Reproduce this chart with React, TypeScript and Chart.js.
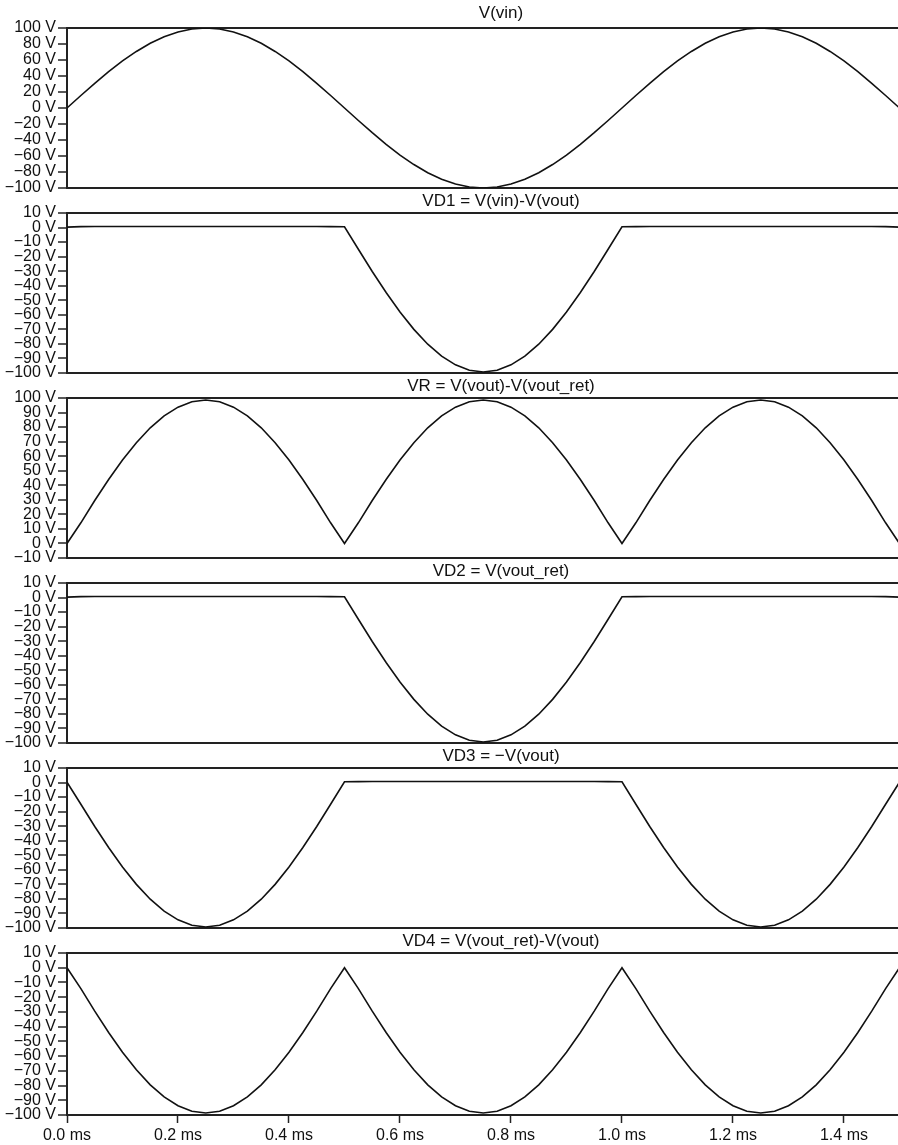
import React, { useEffect, useRef } from 'react';
import { Chart, registerables } from 'chart.js';

Chart.register(...registerables);

const FONT = '"Liberation Sans", Arial, Helvetica, sans-serif';

// time axis (ms)
const TIME_MS = [
  0, 0.025, 0.05, 0.075, 0.1, 0.125, 0.15, 0.175, 0.2, 0.225,
  0.25, 0.275, 0.3, 0.325, 0.35, 0.375, 0.4, 0.425, 0.45, 0.475,
  0.5, 0.525, 0.55, 0.575, 0.6, 0.625, 0.65, 0.675, 0.7, 0.725,
  0.75, 0.775, 0.8, 0.825, 0.85, 0.875, 0.9, 0.925, 0.95, 0.975,
  1.0, 1.025, 1.05, 1.075, 1.1, 1.125, 1.15, 1.175, 1.2, 1.225,
  1.25, 1.275, 1.3, 1.325, 1.35, 1.375, 1.4, 1.425, 1.45, 1.475,
  1.5,
];

const X_MAX = 1.564;
const X_TICKS = [0, 0.2, 0.4, 0.6, 0.8, 1.0, 1.2, 1.4];
const X_TICK_LABELS = ['0.0 ms', '0.2 ms', '0.4 ms', '0.6 ms', '0.8 ms', '1.0 ms', '1.2 ms', '1.4 ms'];

const Y_TICKS_VIN = [-100, -80, -60, -40, -20, 0, 20, 40, 60, 80, 100];
const Y_TICKS_NEG = [-100, -90, -80, -70, -60, -50, -40, -30, -20, -10, 0, 10];
const Y_TICKS_POS = [-10, 0, 10, 20, 30, 40, 50, 60, 70, 80, 90, 100];

const V_VIN = [
  0, 15.6, 30.9, 45.4, 58.8, 70.7, 80.9, 89.1, 95.1, 98.8,
  100, 98.8, 95.1, 89.1, 80.9, 70.7, 58.8, 45.4, 30.9, 15.6,
  0, -15.6, -30.9, -45.4, -58.8, -70.7, -80.9, -89.1, -95.1, -98.8,
  -100, -98.8, -95.1, -89.1, -80.9, -70.7, -58.8, -45.4, -30.9, -15.6,
  0, 15.6, 30.9, 45.4, 58.8, 70.7, 80.9, 89.1, 95.1, 98.8,
  100, 98.8, 95.1, 89.1, 80.9, 70.7, 58.8, 45.4, 30.9, 15.6,
  0,
];

const VD1 = [
  0.3, 0.6, 0.7, 0.7, 0.7, 0.7, 0.7, 0.7, 0.7, 0.7,
  0.7, 0.7, 0.7, 0.7, 0.7, 0.7, 0.7, 0.7, 0.7, 0.6,
  0.5, -14.9, -30.2, -44.7, -58.1, -70.0, -80.2, -88.4, -94.4, -98.1,
  -99.3, -98.1, -94.4, -88.4, -80.2, -70.0, -58.1, -44.7, -30.2, -14.9,
  0.5, 0.6, 0.7, 0.7, 0.7, 0.7, 0.7, 0.7, 0.7, 0.7,
  0.7, 0.7, 0.7, 0.7, 0.7, 0.7, 0.7, 0.7, 0.7, 0.6,
  0.3,
];

const VR = [
  0, 14.2, 29.5, 44.0, 57.4, 69.3, 79.5, 87.7, 93.7, 97.4,
  98.6, 97.4, 93.7, 87.7, 79.5, 69.3, 57.4, 44.0, 29.5, 14.2,
  0, 14.2, 29.5, 44.0, 57.4, 69.3, 79.5, 87.7, 93.7, 97.4,
  98.6, 97.4, 93.7, 87.7, 79.5, 69.3, 57.4, 44.0, 29.5, 14.2,
  0, 14.2, 29.5, 44.0, 57.4, 69.3, 79.5, 87.7, 93.7, 97.4,
  98.6, 97.4, 93.7, 87.7, 79.5, 69.3, 57.4, 44.0, 29.5, 14.2,
  0,
];

const VD2 = [
  0.3, 0.6, 0.7, 0.7, 0.7, 0.7, 0.7, 0.7, 0.7, 0.7,
  0.7, 0.7, 0.7, 0.7, 0.7, 0.7, 0.7, 0.7, 0.7, 0.6,
  0.5, -14.9, -30.2, -44.7, -58.1, -70.0, -80.2, -88.4, -94.4, -98.1,
  -99.3, -98.1, -94.4, -88.4, -80.2, -70.0, -58.1, -44.7, -30.2, -14.9,
  0.5, 0.6, 0.7, 0.7, 0.7, 0.7, 0.7, 0.7, 0.7, 0.7,
  0.7, 0.7, 0.7, 0.7, 0.7, 0.7, 0.7, 0.7, 0.7, 0.6,
  0.3,
];

const VD3 = [
  0.2, -14.9, -30.2, -44.7, -58.1, -70.0, -80.2, -88.4, -94.4, -98.1,
  -99.3, -98.1, -94.4, -88.4, -80.2, -70.0, -58.1, -44.7, -30.2, -14.9,
  0.5, 0.6, 0.7, 0.7, 0.7, 0.7, 0.7, 0.7, 0.7, 0.7,
  0.7, 0.7, 0.7, 0.7, 0.7, 0.7, 0.7, 0.7, 0.7, 0.6,
  0.5, -14.9, -30.2, -44.7, -58.1, -70.0, -80.2, -88.4, -94.4, -98.1,
  -99.3, -98.1, -94.4, -88.4, -80.2, -70.0, -58.1, -44.7, -30.2, -14.9,
  0.2,
];

const VD4 = [
  0, -14.2, -29.5, -44.0, -57.4, -69.3, -79.5, -87.7, -93.7, -97.4,
  -98.6, -97.4, -93.7, -87.7, -79.5, -69.3, -57.4, -44.0, -29.5, -14.2,
  0, -14.2, -29.5, -44.0, -57.4, -69.3, -79.5, -87.7, -93.7, -97.4,
  -98.6, -97.4, -93.7, -87.7, -79.5, -69.3, -57.4, -44.0, -29.5, -14.2,
  0, -14.2, -29.5, -44.0, -57.4, -69.3, -79.5, -87.7, -93.7, -97.4,
  -98.6, -97.4, -93.7, -87.7, -79.5, -69.3, -57.4, -44.0, -29.5, -14.2,
  0,
];

const TITLES = [
  'V(vin)',
  'VD1 = V(vin)-V(vout)',
  'VR = V(vout)-V(vout_ret)',
  'VD2 = V(vout_ret)',
  'VD3 = \u2212V(vout)',
  'VD4 = V(vout_ret)-V(vout)',
];

const fmtVolt = (v: number) => (v < 0 ? '\u2212' + Math.abs(v) : String(v)) + ' V';

type PanelProps = {
  title: string;
  values: number[];
  yTicks: number[];
  top: number;
  height: number;
  showX: boolean;
  titlePad: { top: number; bottom: number };
};

function Panel({ title, values, yTicks, top, height, showX, titlePad }: PanelProps) {
  const ref = useRef<HTMLCanvasElement>(null);
  useEffect(() => {
    const yMin = yTicks[0];
    const yMax = yTicks[yTicks.length - 1];
    const font = { family: FONT, size: 16, weight: 'normal' as const, lineHeight: 1.2 };
    const titleFont = { family: FONT, size: 17, weight: 'normal' as const, lineHeight: 1.2 };
    const chart = new Chart(ref.current as HTMLCanvasElement, {
      type: 'line',
      data: {
        datasets: [
          {
            data: TIME_MS.map((t, i) => ({ x: t, y: values[i] })),
            borderColor: '#111',
            borderWidth: 1.6,
            pointRadius: 0,
            tension: 0,
            fill: false,
          },
        ],
      },
      options: {
        animation: false,
        responsive: false,
        devicePixelRatio: 1,
        layout: { padding: { left: 0, right: 0, top: 0, bottom: showX ? 0 : 12 } },
        plugins: {
          legend: { display: false },
          tooltip: { enabled: false },
          title: {
            display: true,
            text: title,
            fullSize: false,
            color: '#111',
            font: titleFont,
            padding: titlePad,
          },
        },
        scales: {
          x: {
            type: 'linear',
            min: 0,
            max: X_MAX,
            display: showX,
            afterBuildTicks: (s: any) => {
              s.ticks = X_TICKS.map((v) => ({ value: v }));
            },
            afterFit: (s: any) => {
              if (showX) s.height = 30;
            },
            grid: {
              drawOnChartArea: false,
              drawTicks: true,
              tickLength: 8,
              tickColor: '#222',
              tickWidth: 1.5,
            },
            border: { display: false },
            ticks: {
              padding: 3,
              color: '#111',
              font,
              autoSkip: false,
              maxRotation: 0,
              callback: (_v: any, i: number) => X_TICK_LABELS[i],
            },
          },
          y: {
            type: 'linear',
            min: yMin,
            max: yMax,
            afterBuildTicks: (s: any) => {
              s.ticks = yTicks.map((v) => ({ value: v }));
            },
            afterFit: (s: any) => {
              s.width = 67;
            },
            grid: {
              color: (ctx: any) =>
                ctx.tick && (ctx.tick.value === yMin || ctx.tick.value === yMax) ? '#222' : 'rgba(0,0,0,0)',
              lineWidth: 2,
              drawTicks: true,
              tickLength: 9,
              tickColor: '#222',
              tickWidth: 1.5,
            },
            border: { display: true, color: '#222', width: 2 },
            ticks: {
              padding: 2,
              color: '#111',
              font,
              autoSkip: false,
              callback: (v: any) => fmtVolt(Number(v)),
            },
          },
        },
      },
    });
    return () => chart.destroy();
  }, []);
  return (
    <canvas
      ref={ref}
      width={935}
      height={height}
      style={{ position: 'absolute', left: 0, top, width: 935, height }}
    />
  );
}

const PANEL_VALUES = [V_VIN, VD1, VR, VD2, VD3, VD4];
const PANEL_TICKS = [Y_TICKS_VIN, Y_TICKS_NEG, Y_TICKS_POS, Y_TICKS_NEG, Y_TICKS_NEG, Y_TICKS_NEG];
const PANEL_TOPS = [0, 185, 370, 555, 740, 925];

export default function App() {
  return (
    <div
      style={{
        position: 'absolute',
        left: 0,
        top: 0,
        width: 898,
        height: 1145,
        overflow: 'hidden',
        background: '#fff',
      }}
    >
      {TITLES.map((t, i) => (
        <Panel
          key={i}
          title={t}
          values={PANEL_VALUES[i]}
          yTicks={PANEL_TICKS[i]}
          top={PANEL_TOPS[i]}
          height={i === 5 ? 220 : 200}
          showX={i === 5}
          titlePad={i === 0 ? { top: 3.3, bottom: 4.3 } : { top: 5.8, bottom: 1.8 }}
        />
      ))}
    </div>
  );
}
